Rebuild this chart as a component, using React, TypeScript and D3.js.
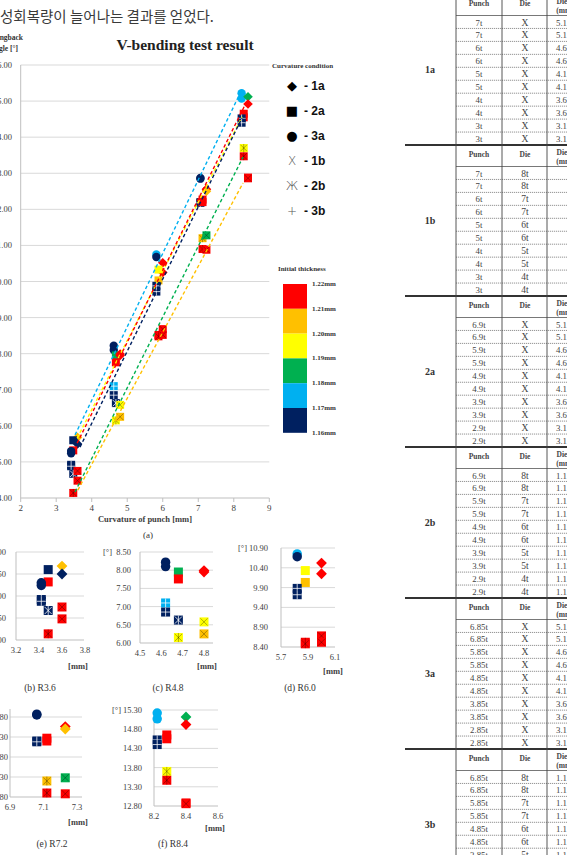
import React from "react";
import * as d3 from "d3";

const koreanLine = "성회복량이 늘어나는 결과를 얻었다.";
const mainTitle = "V-bending test result";
const xAxisTitle = "Curvature of punch [mm]";
const yAxisTitle1 = "Springback";
const yAxisTitle2 = "angle [°]";

const conditionLabels = ["1a", "2a", "3a", "1b", "2b", "3b"];
const conditionGlyphs = ["◆", "■", "●", "X", "Ж", "+"];
const thicknessKeys = ["R", "O", "Y", "G", "C", "N"];
const thicknessColors = ["#FF0000", "#FFC000", "#FFFF00", "#00B050", "#00B0F0", "#002060"];
const thicknessLabels = ["1.22mm", "1.21mm", "1.20mm", "1.19mm", "1.18mm", "1.17mm", "1.16mm"];

const mainXTicks = [2, 3, 4, 5, 6, 7, 8, 9];
const mainYTicks = [4, 5, 6, 7, 8, 9, 10, 11, 12, 13, 14, 15, 16];

// measured points: condition, thickness, punch curvature [mm], springback angle [deg]
const pointCondition = [
  "1a", "1a", "2a", "2a", "3a", "3a", "3b", "3b", "2b", "2b", "1b", "1b",
  "3a", "3a", "2a", "2a", "1a", "1a", "3b", "3b", "2b", "2b", "1b", "1b",
  "3a", "3a", "1a", "1a", "2a", "2a", "3b", "3b", "2b", "2b", "1b", "1b",
  "3a", "3a", "1a", "1a", "3b", "3b", "2a", "2a", "2b", "2b", "1b", "1b",
  "3a", "3a", "1a", "1a", "2a", "2a", "3b", "3b", "2b", "2b", "1b", "1b",
];
const pointThickness = [
  "O", "N", "N", "R", "N", "N", "N", "N", "N", "R", "R", "R",
  "N", "N", "G", "R", "R", "R", "C", "N", "N", "Y", "Y", "O",
  "C", "N", "R", "R", "Y", "O", "N", "N", "R", "R", "R", "R",
  "N", "N", "R", "O", "N", "N", "R", "R", "O", "R", "G", "R",
  "C", "C", "G", "R", "R", "R", "N", "N", "Y", "R", "R", "R",
];
const pointX = [
  3.6, 3.6, 3.48, 3.48, 3.42, 3.42, 3.42, 3.42, 3.48, 3.48, 3.6, 3.6,
  4.62, 4.62, 4.68, 4.68, 4.8, 4.8, 4.62, 4.62, 4.68, 4.68, 4.8, 4.8,
  5.82, 5.82, 6.0, 6.0, 5.88, 5.88, 5.82, 5.82, 5.88, 5.88, 6.0, 6.0,
  7.06, 7.06, 7.23, 7.23, 7.06, 7.06, 7.12, 7.12, 7.12, 7.12, 7.23, 7.23,
  8.22, 8.22, 8.4, 8.4, 8.28, 8.28, 8.22, 8.22, 8.28, 8.28, 8.4, 8.4,
];
const pointY = [
  5.68, 5.5, 5.6, 5.32, 5.3, 5.24, 4.92, 4.88, 4.67, 4.14, 4.75, 4.48,
  8.22, 8.1, 7.95, 7.76, 7.99, 7.95, 7.1, 6.85, 6.63, 6.15, 6.58, 6.25,
  10.75, 10.68, 10.52, 10.25, 10.33, 10.03, 9.88, 9.72, 8.52, 8.48, 8.68, 8.52,
  12.87, 12.85, 12.56, 12.5, 12.2, 12.18, 12.27, 12.2, 11.2, 10.9, 11.28, 10.88,
  15.22, 15.07, 15.12, 14.92, 14.65, 14.55, 14.52, 14.4, 13.7, 13.47, 12.88, 12.86,
];

// dashed trend lines
const trendThickness = ["C", "Y", "R", "N", "G", "O"];
const trendX1 = [3.53, 3.59, 3.59, 3.67, 3.53, 3.61];
const trendY1 = [5.75, 5.66, 5.52, 5.41, 4.17, 4.22];
const trendX2 = [8.18, 8.23, 8.32, 8.23, 8.26, 8.26];
const trendY2 = [15.22, 14.56, 14.9, 14.53, 13.45, 12.73];

// table
const sectionLabels = ["1a", "1b", "2a", "2b", "3a", "3b"];
const punch1 = ["7t", "7t", "6t", "6t", "5t", "5t", "4t", "4t", "3t", "3t"];
const punch2 = ["6.9t", "6.9t", "5.9t", "5.9t", "4.9t", "4.9t", "3.9t", "3.9t", "2.9t", "2.9t"];
const punch3 = ["6.85t", "6.85t", "5.85t", "5.85t", "4.85t", "4.85t", "3.85t", "3.85t", "2.85t", "2.85t"];
const dieA = ["X", "X", "X", "X", "X", "X", "X", "X", "X", "X"];
const dieB = ["8t", "8t", "7t", "7t", "6t", "6t", "5t", "5t", "4t", "4t"];
const gapA = ["5.1", "5.1", "4.6", "4.6", "4.1", "4.1", "3.6", "3.6", "3.1", "3.1"];
const gapB = ["1.1", "1.1", "1.1", "1.1", "1.1", "1.1", "1.1", "1.1", "1.1", "1.1"];
const gapNone = ["", "", "", "", "", "", "", "", "", ""];
const sectionPunch = [punch1, punch1, punch2, punch2, punch3, punch3];
const sectionDie = [dieA, dieB, dieA, dieB, dieA, dieB];
const sectionGap = [gapA, gapNone, gapA, gapB, gapA, gapB];

const subCaptions = ["(b) R3.6", "(c) R4.8", "(d) R6.0", "(e) R7.2", "(f) R8.4"];
const subXTicks = [[3.2, 3.4, 3.6, 3.8], [4.5, 4.6, 4.7, 4.8], [5.7, 5.9, 6.1], [6.9, 7.1, 7.3], [8.2, 8.4, 8.6]];
const subYTicks = [
  [4.0, 4.5, 5.0, 5.5, 6.0],
  [6.0, 6.5, 7.0, 7.5, 8.0, 8.5],
  [8.4, 8.9, 9.4, 9.9, 10.4, 10.9],
  [10.8, 11.3, 11.8, 12.3, 12.8],
  [12.8, 13.3, 13.8, 14.3, 14.8, 15.3],
];

const SERIF = "'Liberation Serif', 'Times New Roman', serif";
const SANS = "'Liberation Sans', Arial, sans-serif";
const colorOf = (k: string) => thicknessColors[thicknessKeys.indexOf(k)];

function Marker({ cond, color, cx, cy, s }: { cond: string; color: string; cx: number; cy: number; s: number }) {
  const h = s / 2;
  const light = color === "#002060" || color === "#00B0F0";
  const lc = light ? "rgba(255,255,255,0.85)" : "rgba(0,0,0,0.35)";
  if (cond === "1a") {
    const d = h * 1.2;
    return <path d={`M${cx},${cy - d}L${cx + d},${cy}L${cx},${cy + d}L${cx - d},${cy}Z`} fill={color} />;
  }
  if (cond === "2a") return <rect x={cx - h} y={cy - h} width={s} height={s} fill={color} />;
  if (cond === "3a") return <circle cx={cx} cy={cy} r={h * 1.05} fill={color} />;
  const lines: JSX.Element[] = [];
  const k = h * 0.8;
  if (cond === "1b" || cond === "2b") {
    lines.push(<line key="a" x1={cx - k} y1={cy - k} x2={cx + k} y2={cy + k} />);
    lines.push(<line key="b" x1={cx - k} y1={cy + k} x2={cx + k} y2={cy - k} />);
  }
  if (cond === "2b" || cond === "3b") lines.push(<line key="c" x1={cx} y1={cy - h} x2={cx} y2={cy + h} />);
  if (cond === "3b") lines.push(<line key="d" x1={cx - h} y1={cy} x2={cx + h} y2={cy} />);
  return (
    <g>
      <rect x={cx - h} y={cy - h} width={s} height={s} fill={color} />
      <g stroke={lc} strokeWidth={0.9}>{lines}</g>
    </g>
  );
}

function MainChart() {
  const x = d3.scaleLinear().domain([2, 9]).range([20.7, 269.3]);
  const y = d3.scaleLinear().domain([4, 16]).range([498, 65]);
  return (
    <g>
      <text x={185} y={50} textAnchor="middle" fontFamily={SERIF} fontWeight="bold" fontSize={15.5} fill="#222">{mainTitle}</text>
      <text x={23} y={40} textAnchor="end" fontFamily={SERIF} fontWeight="bold" fontSize={7.5} fill="#333">{yAxisTitle1}</text>
      <text x={18} y={51} textAnchor="end" fontFamily={SERIF} fontWeight="bold" fontSize={7.5} fill="#333">{yAxisTitle2}</text>
      {mainYTicks.map((t) => (
        <g key={t}>
          {t > 4 && <line x1={x(2)} x2={x(9)} y1={y(t)} y2={y(t)} stroke="#d9d9d9" strokeWidth={1} />}
          <text x={12} y={y(t) + 3} textAnchor="end" fontFamily={SERIF} fontSize={8.5} fill="#404040">{t.toFixed(2)}</text>
        </g>
      ))}
      <line x1={x(2)} x2={x(2)} y1={y(16)} y2={y(4)} stroke="#bfbfbf" />
      <line x1={x(2)} x2={x(9)} y1={y(4)} y2={y(4)} stroke="#bfbfbf" />
      {mainXTicks.map((t) => (
        <g key={t}>
          <line x1={x(t)} x2={x(t)} y1={y(4)} y2={y(4) + 4} stroke="#bfbfbf" />
          <text x={x(t)} y={y(4) + 13} textAnchor="middle" fontFamily={SERIF} fontSize={9} fill="#404040">{t}</text>
        </g>
      ))}
      <text x={145} y={522} textAnchor="middle" fontFamily={SERIF} fontWeight="bold" fontSize={8.5} fill="#404040">{xAxisTitle}</text>
      <text x={148} y={538} textAnchor="middle" fontFamily={SERIF} fontSize={9} fill="#333">(a)</text>
      {pointX.map((px, i) => (
        <Marker key={i} cond={pointCondition[i]} color={colorOf(pointThickness[i])} cx={x(px)} cy={y(pointY[i])} s={8} />
      ))}
      {trendThickness.map((k, i) => (
        <line key={i} x1={x(trendX1[i])} y1={y(trendY1[i])} x2={x(trendX2[i])} y2={y(trendY2[i])}
          stroke={colorOf(k)} strokeWidth={1.4} strokeDasharray="3.5,2.5" />
      ))}
      {/* legend: curvature condition */}
      <text x={272} y={68} fontFamily={SERIF} fontWeight="bold" fontSize={7} fill="#333">Curvature condition</text>
      {conditionLabels.map((c, i) => {
        const cy = 85 + i * 25;
        const g = conditionGlyphs[i];
        const thin = i >= 3;
        return (
          <g key={c}>
            <text x={292} y={cy + 4.5} textAnchor="middle" fontFamily="'DejaVu Sans', sans-serif"
              fontSize={thin ? 12 : 13} fontWeight={thin ? 200 : "normal"} fill={thin ? "#555" : "#000"}>{g}</text>
            <text x={304} y={cy + 4.5} fontFamily={SANS} fontWeight="bold" fontSize={12} fill="#111">{"- " + c}</text>
          </g>
        );
      })}
      {/* legend: thickness */}
      <text x={278} y={271} fontFamily={SERIF} fontWeight="bold" fontSize={7} fill="#333">Initial thickness</text>
      {thicknessColors.map((c, i) => (
        <rect key={c} x={283} y={284 + i * 24.8} width={24} height={24.8} fill={c} />
      ))}
      {thicknessLabels.map((l, i) => (
        <text key={l} x={312} y={286 + i * 24.8} fontFamily={SERIF} fontWeight="bold" fontSize={7} fill="#333">{l}</text>
      ))}
    </g>
  );
}

type SubSpec = {
  idx: number; xr: [number, number]; yr: [number, number]; gridRight: number;
  yLabelRight: number; deg: number | null; mm: [number, number]; cap: [number, number];
};

const subSpecs: SubSpec[] = [
  { idx: 0, xr: [16, 85], yr: [640, 552], gridRight: 84, yLabelRight: 6, deg: null, mm: [78, 669], cap: [40, 691] },
  { idx: 1, xr: [140, 204], yr: [643, 552], gridRight: 213, yLabelRight: 131, deg: 103, mm: [207, 669], cap: [168, 691] },
  { idx: 2, xr: [281, 335], yr: [647, 548], gridRight: 335, yLabelRight: 268, deg: 238, mm: [333, 674], cap: [300, 691] },
  { idx: 3, xr: [10, 77], yr: [797, 717], gridRight: 82, yLabelRight: 8, deg: null, mm: [78, 825], cap: [52, 847] },
  { idx: 4, xr: [154, 218], yr: [806, 710], gridRight: 218, yLabelRight: 142, deg: 112, mm: [215, 831], cap: [173, 847] },
];

function SubChart({ spec }: { spec: SubSpec }) {
  const xt = subXTicks[spec.idx];
  const yt = subYTicks[spec.idx];
  const x = d3.scaleLinear().domain([xt[0], xt[xt.length - 1]]).range(spec.xr);
  const y = d3.scaleLinear().domain([yt[0], yt[yt.length - 1]]).range(spec.yr);
  const [x0, x1] = x.domain();
  const [y0] = y.domain();
  const yTop = spec.idx === 3 ? spec.yr[1] - 8 : spec.yr[1];
  return (
    <g>
      {yt.map((t, i) => (
        <g key={t}>
          {i > 0 && <line x1={spec.xr[0]} x2={spec.gridRight} y1={y(t)} y2={y(t)} stroke="#d9d9d9" />}
          <text x={spec.yLabelRight} y={y(t) + 3} textAnchor="end" fontFamily={SERIF} fontSize={8.5} fill="#404040">{t.toFixed(2)}</text>
        </g>
      ))}
      {spec.deg !== null && (
        <text x={spec.deg} y={spec.yr[1] + 3} fontFamily={SERIF} fontSize={8.5} fill="#404040">[°]</text>
      )}
      <line x1={spec.xr[0]} x2={spec.xr[0]} y1={yTop} y2={spec.yr[0]} stroke="#bfbfbf" />
      <line x1={spec.xr[0]} x2={spec.gridRight} y1={y(y0)} y2={y(y0)} stroke="#bfbfbf" />
      {xt.map((t) => (
        <text key={t} x={x(t)} y={spec.yr[0] + 13} textAnchor="middle" fontFamily={SERIF} fontSize={8.5} fill="#404040">{t.toFixed(1)}</text>
      ))}
      <text x={spec.mm[0]} y={spec.mm[1]} textAnchor="middle" fontFamily={SERIF} fontWeight="bold" fontSize={8.5} fill="#404040">[mm]</text>
      <text x={spec.cap[0]} y={spec.cap[1]} textAnchor="middle" fontFamily={SERIF} fontSize={9.5} fill="#333">{subCaptions[spec.idx]}</text>
      {pointX.map((px, i) =>
        px >= x0 - 0.01 && px <= x1 + 0.05 && pointY[i] >= y0 - 0.2 && pointY[i] <= yt[yt.length - 1] + 0.2 ? (
          <Marker key={i} cond={pointCondition[i]} color={colorOf(pointThickness[i])} cx={x(px)} cy={y(pointY[i])} s={9} />
        ) : null
      )}
    </g>
  );
}

function Table() {
  const top0 = -6;
  const secH = 151;
  const headH = 21.5;
  const rowH = 12.95;
  const cols = [456, 502, 547, 600];
  return (
    <g fontFamily={SERIF} fill="#444">
      {sectionLabels.map((lab, s) => {
        const top = top0 + s * secH;
        return (
          <g key={lab}>
            {s > 0 && <line x1={405} x2={567} y1={top} y2={top} stroke="#333" strokeWidth={2} />}
            <text x={430} y={top + secH / 2 + 3} textAnchor="middle" fontWeight="bold" fontSize={10} fill="#333">{lab}</text>
            <text x={479} y={top + 12} textAnchor="middle" fontWeight="bold" fontSize={7.5}>Punch</text>
            <text x={525} y={top + 12} textAnchor="middle" fontWeight="bold" fontSize={7.5}>Die</text>
            <text x={562} y={top + 10} textAnchor="middle" fontWeight="bold" fontSize={7.5}>Die</text>
            <text x={565} y={top + 19} textAnchor="middle" fontWeight="bold" fontSize={7.5}>(mm)</text>
            <line x1={456} x2={567} y1={top + headH} y2={top + headH} stroke="#555" strokeWidth={0.8} />
            {sectionPunch[s].map((p, r) => {
              const ry = top + headH + r * rowH;
              return (
                <g key={r}>
                  {r > 0 && <line x1={456} x2={567} y1={ry} y2={ry} stroke="#666" strokeWidth={0.7} strokeDasharray="1.2,0.8" />}
                  <text x={479} y={ry + 10} textAnchor="middle" fontSize={8.8}>{p}</text>
                  <text x={525} y={ry + 10} textAnchor="middle" fontSize={9.5}>{sectionDie[s][r]}</text>
                  <text x={556} y={ry + 10} fontSize={8.8}>{sectionGap[s][r]}</text>
                </g>
              );
            })}
          </g>
        );
      })}
      {cols.map((c) => (
        <line key={c} x1={c} x2={c} y1={0} y2={855} stroke="#444" strokeWidth={0.9} />
      ))}
    </g>
  );
}

export default function App() {
  return (
    <svg width={567} height={855} style={{ position: "absolute", left: 0, top: 0, background: "#fff" }}>
      <rect width={567} height={855} fill="#fff" />
      <text x={0} y={22} fontFamily="'Noto Sans CJK KR', sans-serif" fontSize={14.5} fill="#3a3a3a">{koreanLine}</text>
      <MainChart />
      {subSpecs.map((s) => <SubChart key={s.idx} spec={s} />)}
      <Table />
    </svg>
  );
}
